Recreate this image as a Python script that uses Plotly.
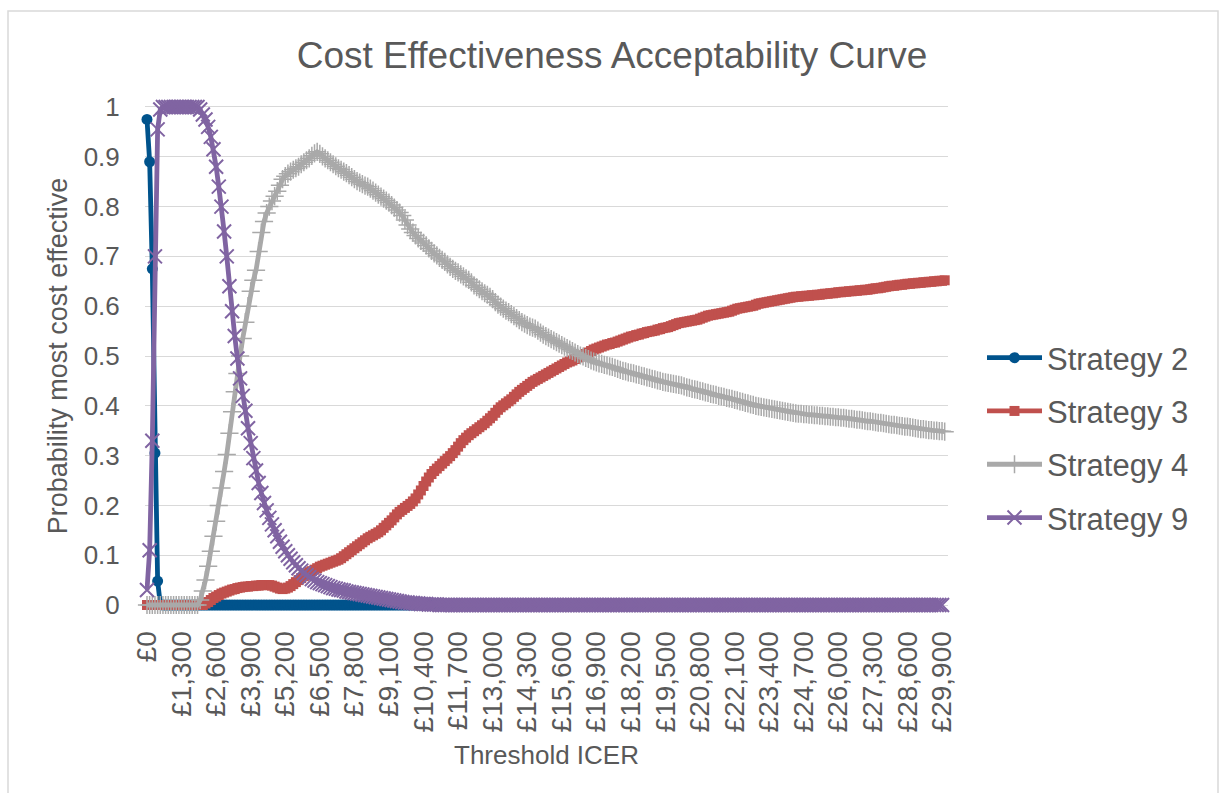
import plotly.graph_objects as go

# Category axis: threshold ICER £0 .. £30,000 in £100 steps
thresholds = [100 * i for i in range(301)]

tick_values = [0, 1300, 2600, 3900, 5200, 6500, 7800, 9100, 10400, 11700, 13000, 14300,
               15600, 16900, 18200, 19500, 20800, 22100, 23400, 24700, 26000, 27300, 28600, 29900]
tick_labels = ["£0", "£1,300", "£2,600", "£3,900", "£5,200", "£6,500", "£7,800", "£9,100",
               "£10,400", "£11,700", "£13,000", "£14,300", "£15,600", "£16,900", "£18,200",
               "£19,500", "£20,800", "£22,100", "£23,400", "£24,700", "£26,000", "£27,300",
               "£28,600", "£29,900"]

strategy2 = [
    0.975, 0.89, 0.675, 0.305, 0.048, 0.002, 0, 0, 0, 0,
    0, 0, 0, 0, 0, 0, 0, 0, 0, 0, 0, 0, 0, 0, 0, 0, 0, 0, 0, 0,
    0, 0, 0, 0, 0, 0, 0, 0, 0, 0, 0, 0, 0, 0, 0, 0, 0, 0, 0, 0,
    0, 0, 0, 0, 0, 0, 0, 0, 0, 0, 0, 0, 0, 0, 0, 0, 0, 0, 0, 0,
    0, 0, 0, 0, 0, 0, 0, 0, 0, 0, 0, 0, 0, 0, 0, 0, 0, 0, 0, 0,
    0, 0, 0, 0, 0, 0, 0, 0, 0, 0, 0, 0, 0, 0, 0, 0, 0, 0, 0, 0,
    0, 0, 0, 0, 0, 0, 0, 0, 0, 0, 0, 0, 0, 0, 0, 0, 0, 0, 0, 0,
    0, 0, 0, 0, 0, 0, 0, 0, 0, 0, 0, 0, 0, 0, 0, 0, 0, 0, 0, 0,
    0, 0, 0, 0, 0, 0, 0, 0, 0, 0, 0, 0, 0, 0, 0, 0, 0, 0, 0, 0,
    0, 0, 0, 0, 0, 0, 0, 0, 0, 0, 0, 0, 0, 0, 0, 0, 0, 0, 0, 0,
    0, 0, 0, 0, 0, 0, 0, 0, 0, 0, 0, 0, 0, 0, 0, 0, 0, 0, 0, 0,
    0, 0, 0, 0, 0, 0, 0, 0, 0, 0, 0, 0, 0, 0, 0, 0, 0, 0, 0, 0,
    0, 0, 0, 0, 0, 0, 0, 0, 0, 0, 0, 0, 0, 0, 0, 0, 0, 0, 0, 0,
    0, 0, 0, 0, 0, 0, 0, 0, 0, 0, 0, 0, 0, 0, 0, 0, 0, 0, 0, 0,
    0, 0, 0, 0, 0, 0, 0, 0, 0, 0, 0, 0, 0, 0, 0, 0, 0, 0, 0, 0,
    0,
]

strategy3 = [
    0, 0, 0, 0, 0, 0, 0, 0, 0, 0, 0, 0, 0, 0, 0, 0, 0, 0, 0, 0, 0, 0,
    0.003, 0.006, 0.010, 0.014, 0.017, 0.020, 0.023, 0.025, 0.027, 0.029,
    0.031, 0.032, 0.034, 0.035, 0.036, 0.037, 0.037, 0.038, 0.038, 0.039,
    0.039, 0.040, 0.040, 0.040, 0.040, 0.039, 0.037, 0.035, 0.033, 0.032,
    0.033, 0.035, 0.038, 0.042, 0.046, 0.050, 0.054, 0.058, 0.062, 0.066,
    0.068, 0.071, 0.074, 0.077, 0.079, 0.081, 0.083, 0.085, 0.087, 0.089,
    0.091, 0.094, 0.098, 0.102, 0.106, 0.110, 0.114, 0.118, 0.122, 0.126,
    0.130, 0.134, 0.137, 0.140, 0.143, 0.146, 0.150, 0.155, 0.160, 0.165,
    0.170, 0.176, 0.182, 0.187, 0.191, 0.195, 0.199, 0.203, 0.208, 0.214,
    0.222, 0.230, 0.239, 0.248, 0.256, 0.263, 0.269, 0.274, 0.279, 0.284,
    0.289, 0.294, 0.299, 0.305, 0.311, 0.318, 0.325, 0.331, 0.336, 0.341,
    0.345, 0.349, 0.353, 0.357, 0.361, 0.365, 0.370, 0.375, 0.380, 0.386,
    0.392, 0.397, 0.401, 0.405, 0.409, 0.413, 0.418, 0.423, 0.428, 0.432,
    0.436, 0.440, 0.444, 0.448, 0.451, 0.454, 0.457, 0.460, 0.463, 0.466,
    0.469, 0.472, 0.475, 0.478, 0.481, 0.484, 0.487, 0.489, 0.491, 0.494,
    0.497, 0.499, 0.501, 0.504, 0.507, 0.510, 0.513, 0.515, 0.517, 0.519,
    0.521, 0.523, 0.524, 0.526, 0.527, 0.529, 0.531, 0.533, 0.535, 0.537,
    0.539, 0.540, 0.542, 0.543, 0.545, 0.546, 0.548, 0.549, 0.550, 0.551,
    0.553, 0.554, 0.556, 0.557, 0.558, 0.560, 0.562, 0.564, 0.566, 0.567,
    0.568, 0.569, 0.570, 0.571, 0.572, 0.573, 0.575, 0.577, 0.579, 0.581,
    0.582, 0.583, 0.584, 0.585, 0.586, 0.587, 0.588, 0.589, 0.591, 0.593,
    0.595, 0.596, 0.597, 0.598, 0.599, 0.600, 0.601, 0.603, 0.605, 0.606,
    0.607, 0.608, 0.609, 0.610, 0.611, 0.612, 0.613, 0.614, 0.615, 0.616,
    0.617, 0.618, 0.619, 0.619, 0.620, 0.620, 0.621, 0.621, 0.622, 0.622,
    0.623, 0.623, 0.624, 0.625, 0.625, 0.626, 0.626, 0.627, 0.628, 0.628,
    0.629, 0.629, 0.630, 0.630, 0.631, 0.631, 0.632, 0.632, 0.633, 0.633,
    0.634, 0.635, 0.636, 0.636, 0.637, 0.638, 0.639, 0.640, 0.641, 0.641,
    0.642, 0.643, 0.643, 0.644, 0.645, 0.645, 0.646, 0.646, 0.647, 0.647,
    0.648, 0.648, 0.649, 0.649, 0.650, 0.650, 0.651, 0.651, 0.652,
]

strategy4 = [
    0, 0, 0, 0, 0, 0, 0, 0, 0, 0, 0, 0, 0, 0, 0, 0, 0, 0, 0, 0,
    0.010, 0.028, 0.050, 0.078, 0.108, 0.138, 0.168, 0.200, 0.235, 0.268,
    0.302, 0.345, 0.388, 0.428, 0.465, 0.500, 0.535, 0.568, 0.600, 0.630,
    0.652, 0.672, 0.710, 0.748, 0.770, 0.787, 0.800, 0.811, 0.821, 0.831,
    0.843, 0.855, 0.861, 0.866, 0.870, 0.874, 0.877, 0.880, 0.885, 0.889,
    0.893, 0.897, 0.902, 0.907, 0.910, 0.906, 0.901, 0.897, 0.893, 0.889,
    0.885, 0.881, 0.877, 0.874, 0.870, 0.867, 0.863, 0.859, 0.855, 0.851,
    0.848, 0.845, 0.842, 0.840, 0.836, 0.832, 0.828, 0.824, 0.820, 0.816,
    0.812, 0.808, 0.803, 0.798, 0.793, 0.788, 0.782, 0.773, 0.763, 0.755,
    0.748, 0.742, 0.736, 0.731, 0.727, 0.722, 0.716, 0.711, 0.706, 0.702,
    0.697, 0.693, 0.689, 0.684, 0.679, 0.675, 0.671, 0.668, 0.664, 0.660,
    0.656, 0.653, 0.648, 0.642, 0.638, 0.634, 0.630, 0.626, 0.623, 0.619,
    0.614, 0.608, 0.603, 0.599, 0.595, 0.591, 0.588, 0.584, 0.580, 0.576,
    0.572, 0.568, 0.565, 0.562, 0.559, 0.557, 0.555, 0.551, 0.547, 0.543,
    0.540, 0.537, 0.534, 0.531, 0.528, 0.525, 0.522, 0.519, 0.516, 0.513,
    0.510, 0.507, 0.504, 0.501, 0.499, 0.496, 0.494, 0.491, 0.489, 0.487,
    0.485, 0.484, 0.482, 0.481, 0.479, 0.478, 0.476, 0.474, 0.472, 0.470,
    0.469, 0.467, 0.466, 0.465, 0.463, 0.462, 0.460, 0.459, 0.457, 0.456,
    0.454, 0.453, 0.451, 0.450, 0.448, 0.447, 0.446, 0.445, 0.444, 0.443,
    0.442, 0.441, 0.439, 0.437, 0.436, 0.434, 0.433, 0.432, 0.430, 0.429,
    0.427, 0.426, 0.424, 0.423, 0.422, 0.420, 0.419, 0.418, 0.416, 0.415,
    0.414, 0.412, 0.411, 0.409, 0.408, 0.406, 0.405, 0.403, 0.402, 0.400,
    0.399, 0.398, 0.397, 0.396, 0.395, 0.394, 0.393, 0.392, 0.391, 0.390,
    0.389, 0.388, 0.387, 0.386, 0.385, 0.384, 0.384, 0.383, 0.383, 0.382,
    0.382, 0.381, 0.381, 0.380, 0.380, 0.379, 0.379, 0.378, 0.378, 0.377,
    0.377, 0.376, 0.376, 0.375, 0.374, 0.374, 0.373, 0.372, 0.372, 0.371,
    0.370, 0.369, 0.369, 0.368, 0.367, 0.366, 0.366, 0.365, 0.364, 0.363,
    0.362, 0.362, 0.361, 0.360, 0.359, 0.358, 0.358, 0.357, 0.356, 0.355,
    0.354, 0.353, 0.353, 0.352, 0.351, 0.351, 0.350, 0.350, 0.349, 0.349,
    0.348,
]

strategy9 = [
    0.03, 0.11, 0.33, 0.70, 0.955, 0.995, 1.0, 1.0, 1.0, 1.0,
    1.0, 1.0, 1.0, 1.0, 1.0, 1.0, 1.0, 1.0, 1.0, 1.0,
    0.995, 0.985, 0.975, 0.96, 0.94, 0.915, 0.88, 0.84, 0.80, 0.75,
    0.70, 0.64, 0.59, 0.54, 0.495, 0.455, 0.42, 0.39, 0.355, 0.325,
    0.295, 0.27, 0.245, 0.225, 0.205, 0.19, 0.175, 0.162, 0.15, 0.138,
    0.127, 0.117, 0.108, 0.10, 0.093, 0.086, 0.08, 0.074, 0.069, 0.064,
    0.06, 0.056, 0.052, 0.049, 0.046, 0.044, 0.042, 0.040, 0.038, 0.036,
    0.034, 0.033, 0.031, 0.030, 0.029, 0.027, 0.026, 0.025, 0.024, 0.023,
    0.022, 0.021, 0.020, 0.019, 0.018, 0.017, 0.016, 0.015, 0.014, 0.013,
    0.012, 0.011, 0.010, 0.009, 0.008, 0.007, 0.006, 0.005, 0.005, 0.004,
    0.004, 0.003, 0.003, 0.002, 0.002, 0.002, 0.001, 0.001, 0.001, 0.001,
    0, 0, 0, 0, 0, 0, 0, 0, 0, 0, 0, 0, 0, 0, 0, 0, 0, 0, 0, 0,
    0, 0, 0, 0, 0, 0, 0, 0, 0, 0, 0, 0, 0, 0, 0, 0, 0, 0, 0, 0,
    0, 0, 0, 0, 0, 0, 0, 0, 0, 0, 0, 0, 0, 0, 0, 0, 0, 0, 0, 0,
    0, 0, 0, 0, 0, 0, 0, 0, 0, 0, 0, 0, 0, 0, 0, 0, 0, 0, 0, 0,
    0, 0, 0, 0, 0, 0, 0, 0, 0, 0, 0, 0, 0, 0, 0, 0, 0, 0, 0, 0,
    0, 0, 0, 0, 0, 0, 0, 0, 0, 0, 0, 0, 0, 0, 0, 0, 0, 0, 0, 0,
    0, 0, 0, 0, 0, 0, 0, 0, 0, 0, 0, 0, 0, 0, 0, 0, 0, 0, 0, 0,
    0, 0, 0, 0, 0, 0, 0, 0, 0, 0, 0, 0, 0, 0, 0, 0, 0, 0, 0, 0,
    0, 0, 0, 0, 0, 0, 0, 0, 0, 0, 0, 0, 0, 0, 0, 0, 0, 0, 0, 0,
    0, 0, 0, 0, 0, 0, 0, 0, 0, 0,
    None,
]

series_names = ["Strategy 2", "Strategy 3", "Strategy 4", "Strategy 9"]
series_values = [strategy2, strategy3, strategy4, strategy9]

TEXT = "#595959"
GRID = "#D9D9D9"
FONT = "Liberation Sans, Arial, sans-serif"

styles = [
    dict(color="#00538C", symbol="circle", size=11, lw=0),
    dict(color="#C0504D", symbol="square", size=10, lw=0),
    dict(color="#A9A9A9", symbol="cross-thin", size=13, lw=1.5),
    dict(color="#8064A2", symbol="x-thin", size=14, lw=2),
]

fig = go.Figure()
for name, vals, st in zip(series_names, series_values, styles):
    y = vals
    x = thresholds[:len(y)]
    fig.add_trace(go.Scatter(
        x=x, y=y, name=name, mode="lines+markers",
        line=dict(color=st["color"], width=4.8),
        marker=dict(symbol=st["symbol"], size=st["size"], color=st["color"],
                    line=dict(color=st["color"], width=st["lw"])),
        legendgroup=name, cliponaxis=False,
    ))

L, R, T, B = 145, 948, 101, 611
W, H = 1224, 793
pw, ph = R - L, B - T

fig.update_layout(
    width=W, height=H,
    margin=dict(l=L, r=W - R, t=T, b=H - B),
    paper_bgcolor="white", plot_bgcolor="white",
    font=dict(family=FONT, color=TEXT),
    title=dict(text="Cost Effectiveness Acceptability Curve",
               font=dict(size=37, color=TEXT, family=FONT),
               x=0.5, xref="container", xanchor="center",
               y=1 - 55 / H, yref="container", yanchor="middle"),
    showlegend=True,
    legend=dict(x=(982 - L) / pw, xanchor="left",
                y=(B - 331) / ph, yanchor="top",
                font=dict(size=31, color=TEXT, family=FONT),
                tracegroupgap=10, itemwidth=55,
                bgcolor="rgba(0,0,0,0)"),
    shapes=[dict(type="rect", xref="paper", yref="paper",
                 x0=(8 - L) / pw, x1=(1218 - L) / pw,
                 y0=(B - 820) / ph, y1=(B - 11) / ph,
                 line=dict(color=GRID, width=1.5), layer="below")],
)

fig.update_xaxes(
    range=[-75, 30125],
    tickmode="array", tickvals=tick_values, ticktext=tick_labels,
    tickangle=-90, tickfont=dict(size=28, color=TEXT, family=FONT),
    ticks="outside", ticklen=8, tickcolor="rgba(0,0,0,0)",
    showgrid=False, zeroline=False, showline=False,
    title=dict(text="Threshold ICER", font=dict(size=26, color=TEXT, family=FONT), standoff=14),
)

fig.update_yaxes(
    range=[-0.012, 1.012],
    tickmode="array", tickvals=[0, 0.1, 0.2, 0.3, 0.4, 0.5, 0.6, 0.7, 0.8, 0.9, 1],
    ticktext=["0", "0.1", "0.2", "0.3", "0.4", "0.5", "0.6", "0.7", "0.8", "0.9", "1"],
    tickfont=dict(size=26, color=TEXT, family=FONT),
    ticks="outside", ticklen=19, tickcolor="rgba(0,0,0,0)",
    showgrid=True, gridcolor=GRID, gridwidth=1.3,
    zeroline=False, showline=False,
    title=dict(text="Probability most cost effective",
               font=dict(size=27, color=TEXT, family=FONT), standoff=8),
)

fig.write_html("out.html", config={"displayModeBar": False},
               post_script="document.body.style.margin='0';document.body.style.overflow='hidden';")
